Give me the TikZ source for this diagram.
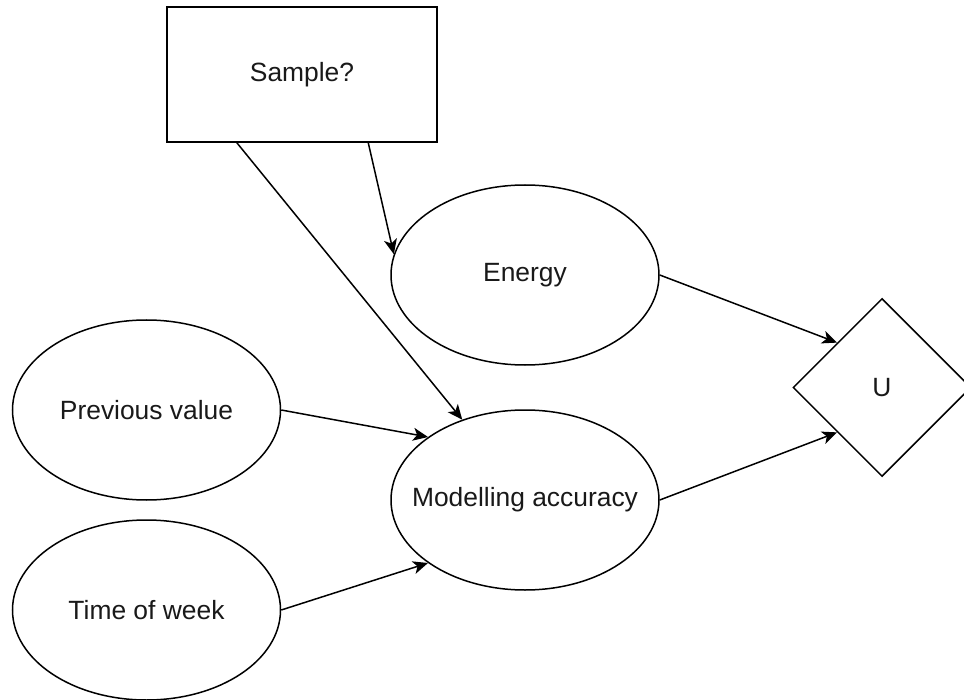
\documentclass[tikz,border=0pt]{standalone}
\usepackage{fontspec}
\setmainfont{Liberation Sans}
\usetikzlibrary{shapes.geometric,arrows.meta,calc}
\begin{document}
\begin{tikzpicture}[x=0.5pt,y=-0.5pt,
  every node/.style={font=\fontsize{13.2pt}{15pt}\selectfont, text=black!90},
  ell/.style={draw, line width=0.75pt, ellipse, minimum width=134pt, minimum height=90pt, inner xsep=-20pt, inner ysep=0pt},
  box/.style={draw, line width=0.75pt, rectangle, minimum width=135pt, minimum height=67.5pt, inner sep=0pt},
  dia/.style={draw, line width=0.75pt, diamond, minimum width=89pt, minimum height=89pt, inner sep=0pt},
  arr/.style={line width=0.75pt, -{Stealth[length=7.5pt,width=6.5pt,inset=2pt]}}
]
\useasboundingbox (0,0) rectangle (964,700);
\node[box] (s) at (302,74.5) {Sample?};
\node[ell] (e) at (525,275) {Energy};
\node[ell] (p) at (146.5,410) {Previous value};
\node[ell] (m) at (525,500) {Modelling accuracy};
\node[ell] (t) at (146.5,610) {Time of week};
\node[dia] (u) at (882,387.5) {U};
\coordinate (s1) at ($(s.south west)!0.26!(s.south east)$);
\coordinate (s2) at ($(s.south west)!0.744!(s.south east)$);
\draw[arr] (s1) -- (m.128);
\draw[arr] (s2) -- (e.171);
\draw[arr] (e.east) -- (u.135);
\draw[arr] (m.east) -- (u.225);
\draw[arr] (p.east) -- (m.147);
\draw[arr] (t.east) -- (m.213);
\end{tikzpicture}
\end{document}
